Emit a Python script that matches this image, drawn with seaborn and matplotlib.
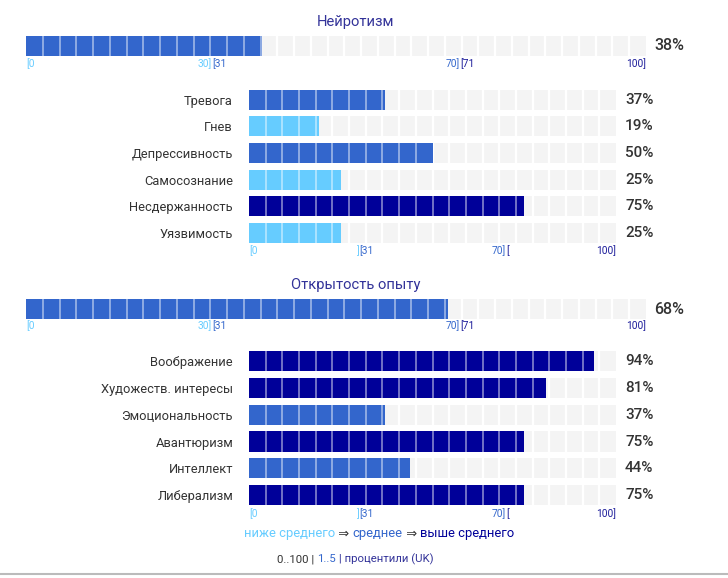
import numpy as np
import pandas as pd
import matplotlib
matplotlib.use("Agg")
import matplotlib.pyplot as plt
import seaborn as sns
from matplotlib.transforms import blended_transform_factory

# ---------------- data ----------------
domains = ["Нейротизм", "Открытость опыту"]
domain_values = [38, 68]
domain_levels = ["среднее", "среднее"]

neuro_facets = ["Тревога", "Гнев", "Депрессивность", "Самосознание", "Несдержанность", "Уязвимость"]
neuro_values = [37, 19, 50, 25, 75, 25]
neuro_levels = ["среднее", "ниже среднего", "среднее", "ниже среднего", "выше среднего", "ниже среднего"]

open_facets = ["Воображение", "Художеств. интересы", "Эмоциональность", "Авантюризм", "Интеллект", "Либерализм"]
open_values = [94, 81, 37, 75, 44, 75]
open_levels = ["выше среднего", "выше среднего", "среднее", "выше среднего", "среднее", "выше среднего"]

level_names = ["ниже среднего", "среднее", "выше среднего"]
footer_parts = ["0..100 | ", "1..5", " | процентили (UK)"]

# ---------------- style ----------------
LIGHT, MED, DARK = "#66ccff", "#3366cc", "#000099"
palette = {"ниже среднего": LIGHT, "среднее": MED, "выше среднего": DARK}
TITLE_C = "#333399"
SCALE_DARK = "#1a1a99"
BG = "#f4f4f4"

sns.set_theme(style="white")
plt.rcParams["font.family"] = ["Roboto", "DejaVu Sans"]

W, H = 728, 578
fig = plt.figure(figsize=(W / 100, H / 100), dpi=100)


def add_ax(x0, y0, x1, y1):
    return fig.add_axes([x0 / W, 1 - y1 / H, (x1 - x0) / W, (y1 - y0) / H])


def draw_block(ax, labels, values, levels, bar_w, pct_x_px, pct_size, n_cells, top=False):
    n = len(labels)
    df = pd.DataFrame({"facet": labels, "value": values, "level": levels})
    ypos = np.arange(n)
    # background track
    ax.barh(ypos, 100, height=bar_w, color=BG, zorder=1, linewidth=0)
    seps = np.linspace(0, 100, n_cells + 1)[1:-1]
    for i in range(n):
        ax.vlines(seps, i - bar_w / 2, i + bar_w / 2, color="white", lw=1.6, zorder=1.5)
    sns.barplot(data=df, x="value", y="facet", hue="level", palette=palette,
                hue_order=level_names, dodge=False, width=bar_w, ax=ax,
                legend=False, zorder=2, linewidth=0, saturation=1)
    for i, v in enumerate(values):
        s = seps[seps < v]
        ax.vlines(s, i - bar_w / 2, i + bar_w / 2, color="white", lw=1.4, alpha=0.45, zorder=3)
    ax.set_xlim(0, 100)
    if top:
        ax.set_ylim(bar_w / 2, -bar_w / 2)
    else:
        ax.set_ylim(n - 0.5, -0.5)
    ax.set_xlabel("")
    ax.set_ylabel("")
    ax.set_xticks([])
    for sp in ax.spines.values():
        sp.set_visible(False)
    if top:
        ax.set_yticks([])
    else:
        ax.tick_params(axis="y", length=0, pad=11.5, labelsize=9.3, labelcolor="#333333")
    tr = blended_transform_factory(fig.transFigure, ax.transData)
    for i, v in enumerate(values):
        ax.text(pct_x_px / W, i, f"{v}%", transform=tr, ha="left", va="center",
                fontsize=pct_size, fontweight="medium", color="#333333")


def scale_labels(ax, y_px, top):
    tr = blended_transform_factory(ax.transData, fig.transFigure)
    y = 1 - y_px / H
    fs = 7.3
    ax.text(0, y, "[0", transform=tr, ha="left", va="center", fontsize=fs, color=LIGHT)
    ax.text(30, y, "30]" if top else "]", transform=tr, ha="right", va="center",
            fontsize=fs, color=LIGHT)
    ax.text(30, y, "[31", transform=tr, ha="left", va="center", fontsize=fs, color=MED)
    ax.text(70, y, "70]", transform=tr, ha="right", va="center", fontsize=fs, color=MED)
    ax.text(70, y, "[71" if top else "[", transform=tr, ha="left", va="center",
            fontsize=fs, color=SCALE_DARK)
    ax.text(100, y, "100]", transform=tr, ha="right", va="center", fontsize=fs, color=SCALE_DARK)


blocks = [
    dict(title_y=22, top=(36, 56), top_scale=64, sub=(86.5, 246.1), sub_scale=251,
         facets=neuro_facets, values=neuro_values, levels=neuro_levels),
    dict(title_y=285, top=(299, 319), top_scale=326, sub=(347.7, 508.5), sub_scale=514,
         facets=open_facets, values=open_values, levels=open_levels),
]

for k, b in enumerate(blocks):
    fig.text(356 / W, 1 - b["title_y"] / H, domains[k], ha="center", va="center",
             fontsize=10.6, color=TITLE_C)
    axt = add_ax(26, b["top"][0], 646, b["top"][1])
    draw_block(axt, [domains[k]], [domain_values[k]], [domain_levels[k]], 0.75,
               654, 11.5, 37, top=True)
    scale_labels(axt, b["top_scale"], True)
    axs = add_ax(249, b["sub"][0], 616, b["sub"][1])
    draw_block(axs, b["facets"], b["values"], b["levels"], 0.75, 625, 11, 22)
    scale_labels(axs, b["sub_scale"], False)


def chain(x_px, y_px, parts, colors, fs):
    t = fig.text(x_px / W, 1 - y_px / H, parts[0], ha="left", va="center",
                 color=colors[0], fontsize=fs)
    for p, c in zip(parts[1:], colors[1:]):
        t = fig.add_artist(matplotlib.text.Annotation(
            p, xy=(1, 0.5), xycoords=t, va="center", ha="left", color=c,
            annotation_clip=False, fontsize=fs))
    return t


arrow_c = "#333333"
chain(244, 534, [level_names[0], " ⇒ ", level_names[1], " ⇒ ", level_names[2]],
      [LIGHT, arrow_c, MED, arrow_c, DARK], 9.4)
chain(277, 559, footer_parts, ["#333333", MED, TITLE_C], 8.2)

fig.add_artist(plt.Line2D([0, 1], [1 - 574 / H] * 2, color="#bbbbbb", lw=1.5,
                          transform=fig.transFigure))

fig.savefig("out.png", dpi=100)
